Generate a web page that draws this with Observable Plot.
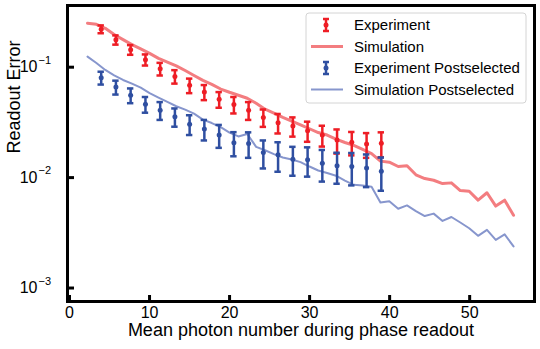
<!DOCTYPE html>
<html><head><meta charset="utf-8">
<script src="https://cdn.jsdelivr.net/npm/d3@7"></script>
<script src="https://cdn.jsdelivr.net/npm/@observablehq/plot@0.6"></script>
<style>body{margin:0;background:#fff;} #chart{width:540px;height:349px;}</style>
</head><body><div id="chart"></div>
<script>
// ---- data ----
const expX = [3.96, 5.80, 7.64, 9.49, 11.33, 13.17, 15.01, 16.85, 18.70, 20.54, 22.38, 24.22, 26.06, 27.91, 29.75, 31.59, 33.43, 35.27, 37.12, 38.96];
const expRed = [0.221, 0.177, 0.144, 0.117, 0.0968, 0.0825, 0.0685, 0.0596, 0.0512, 0.0459, 0.0408, 0.0351, 0.0314, 0.0293, 0.0266, 0.0243, 0.0219, 0.0209, 0.0202, 0.0205];
const errRed = [0.018, 0.017, 0.0145, 0.0135, 0.0127, 0.0115, 0.0103, 0.0093, 0.0083, 0.0078, 0.0075, 0.0063, 0.0063, 0.0058, 0.0055, 0.0052, 0.0054, 0.0050, 0.0051, 0.0052];
const expBlue = [0.0803, 0.0660, 0.0557, 0.0462, 0.0408, 0.0356, 0.0305, 0.0275, 0.0243, 0.0207, 0.0204, 0.0169, 0.0161, 0.0147, 0.0145, 0.0135, 0.0128, 0.0126, 0.0122, 0.0114];
const errBlue = [0.0107, 0.0095, 0.0085, 0.0075, 0.0075, 0.0067, 0.0062, 0.0058, 0.0057, 0.0051, 0.0053, 0.0048, 0.0048, 0.0043, 0.0043, 0.0043, 0.0040, 0.0041, 0.0040, 0.0038];
const simX = [2.25, 3.36, 4.47, 5.58, 6.69, 7.80, 8.90, 10.01, 11.12, 12.23, 13.34, 14.45, 15.56, 16.67, 17.78, 18.89, 19.99, 21.10, 22.21, 23.32, 24.43, 25.54, 26.65, 27.76, 28.87, 29.98, 31.08, 32.19, 33.30, 34.41, 35.52, 36.63, 37.74, 38.85, 39.96, 41.07, 42.17, 43.28, 44.39, 45.50, 46.61, 47.72, 48.83, 49.94, 51.05, 52.16, 53.26, 54.37, 55.48];
const simRed = [0.2505, 0.2443, 0.2250, 0.1975, 0.1778, 0.1600, 0.1463, 0.1333, 0.1202, 0.1113, 0.1029, 0.0934, 0.0842, 0.0759, 0.0699, 0.0634, 0.0593, 0.0557, 0.0523, 0.0472, 0.0417, 0.0384, 0.0351, 0.0325, 0.0301, 0.0277, 0.0256, 0.0243, 0.0223, 0.0208, 0.0196, 0.0180, 0.0165, 0.0141, 0.0138, 0.0126, 0.0128, 0.0106, 0.0098, 0.00946, 0.00883, 0.00896, 0.00764, 0.00753, 0.00625, 0.00729, 0.00552, 0.00625, 0.00456];
const simBlue = [0.1248, 0.1091, 0.0944, 0.0842, 0.0766, 0.0709, 0.0652, 0.0583, 0.0531, 0.0485, 0.0443, 0.0413, 0.0380, 0.0335, 0.0312, 0.0287, 0.0256, 0.0236, 0.0248, 0.0190, 0.0177, 0.0163, 0.0152, 0.0146, 0.0138, 0.0126, 0.0116, 0.0110, 0.0104, 0.00940, 0.00860, 0.00848, 0.00827, 0.00596, 0.00612, 0.00523, 0.00560, 0.00498, 0.00449, 0.00472, 0.00405, 0.00440, 0.00392, 0.00348, 0.00297, 0.00336, 0.00273, 0.00306, 0.00238];
const xTicks = [0, 10, 20, 30, 40, 50];
const yTicks = [1e-3, 1e-2, 1e-1];
const yTickBase = ["10", "10", "10"];
const yTickExp = ["\u22123", "\u22122", "\u22121"];
const xTitle = "Mean photon number during phase readout";
const yTitle = "Readout Error";
const legendLabels = ["Experiment", "Simulation", "Experiment Postselected", "Simulation Postselected"];

// ---- styles ----
const RED = "#ee1d25", RED_SIM = "#f37d80", BLUE = "#2f4fa1", BLUE_SIM = "#8796cd";
const FONT = "'Liberation Sans', Arial, Helvetica, sans-serif";
const W = 540, H = 349, mL = 67, mR = 6, mT = 5, mB = 48;

const exp = expX.map((x, i) => ({x, red: expRed[i], er: errRed[i], blue: expBlue[i], eb: errBlue[i]}));
const sim = simX.map((x, i) => ({x, red: simRed[i], blue: simBlue[i]}));

function errMarks(key, ekey, color) {
  return [
    Plot.ruleX(exp, {x: "x", y1: d => d[key] - d[ekey], y2: d => d[key] + d[ekey], stroke: color, strokeWidth: 2.5}),
    Plot.ruleY(exp, {y: d => d[key] - d[ekey], x1: d => d.x - 0.4, x2: d => d.x + 0.4, stroke: color, strokeWidth: 2.5}),
    Plot.ruleY(exp, {y: d => d[key] + d[ekey], x1: d => d.x - 0.4, x2: d => d.x + 0.4, stroke: color, strokeWidth: 2.5}),
    Plot.dot(exp, {x: "x", y: key, r: 2.5, fill: color, stroke: "none"})
  ];
}

const plot = Plot.plot({
  width: W, height: H,
  marginLeft: mL, marginRight: mR, marginTop: mT, marginBottom: mB,
  style: {fontFamily: FONT, background: "white", color: "black", overflow: "visible"},
  x: {domain: [-0.25, 58.1], label: null},
  y: {type: "log", domain: [7.55e-4, 0.362], axis: null},
  marks: [
    Plot.line(sim, {x: "x", y: "red", stroke: RED_SIM, strokeWidth: 3}),
    Plot.line(sim, {x: "x", y: "blue", stroke: BLUE_SIM, strokeWidth: 2}),
    ...errMarks("red", "er", RED),
    ...errMarks("blue", "eb", BLUE),
    Plot.tickX(xTicks, {x: d => d, insetTop: H - mT - mB - 6, stroke: "black", strokeWidth: 3}),
    Plot.tickY(yTicks, {y: d => d, insetRight: W - mL - mR - 7, stroke: "black", strokeWidth: 3}),
    Plot.frame({stroke: "black", strokeWidth: 3}),
    Plot.axisX(xTicks, {tickSize: 0, tickPadding: 5, fontSize: 16, label: null}),
    Plot.text(yTicks, {y: d => d, frameAnchor: "left", dx: -30, text: (d, i) => yTickBase[i], textAnchor: "end", fontSize: 16}),
    Plot.text(yTicks, {y: d => d, frameAnchor: "left", dx: -29, dy: -7, text: (d, i) => yTickExp[i], textAnchor: "start", fontSize: 11}),
    Plot.text([xTitle], {frameAnchor: "bottom", dy: 34, text: d => d, fontSize: 18}),
    Plot.text([yTitle], {frameAnchor: "left", dx: -53, text: d => d, rotate: -90, fontSize: 18})
  ]
});

// ---- legend ----
const svg = d3.select(plot);
const lg = svg.append("g").attr("font-family", FONT).attr("font-size", 15).attr("fill", "black").attr("text-anchor", "start");
lg.append("rect").attr("x", 306).attr("y", 13).attr("width", 220).attr("height", 90).attr("rx", 3)
  .attr("fill", "white").attr("fill-opacity", 0.85).attr("stroke", "#d4d4d4");
const rowY = [25, 46.5, 68, 89.5];
const kinds = ["err", "line", "err", "line"];
const cols = [RED, RED_SIM, BLUE, BLUE_SIM];
const widths = [2.5, 3, 2.5, 2];
legendLabels.forEach((lab, i) => {
  const y = rowY[i];
  if (kinds[i] === "err") {
    lg.append("line").attr("x1", 326).attr("x2", 326).attr("y1", y - 6).attr("y2", y + 6).attr("stroke", cols[i]).attr("stroke-width", widths[i]);
    lg.append("line").attr("x1", 323).attr("x2", 329).attr("y1", y - 6).attr("y2", y - 6).attr("stroke", cols[i]).attr("stroke-width", widths[i]);
    lg.append("line").attr("x1", 323).attr("x2", 329).attr("y1", y + 6).attr("y2", y + 6).attr("stroke", cols[i]).attr("stroke-width", widths[i]);
    lg.append("circle").attr("cx", 326).attr("cy", y).attr("r", 2.5).attr("fill", cols[i]);
  } else {
    lg.append("line").attr("x1", 311).attr("x2", 343).attr("y1", y).attr("y2", y).attr("stroke", cols[i]).attr("stroke-width", widths[i]);
  }
  lg.append("text").attr("x", 354).attr("y", y).attr("dy", "0.35em").attr("text-anchor", "start").text(lab);
});

document.getElementById("chart").appendChild(plot);
</script>
</body></html>
